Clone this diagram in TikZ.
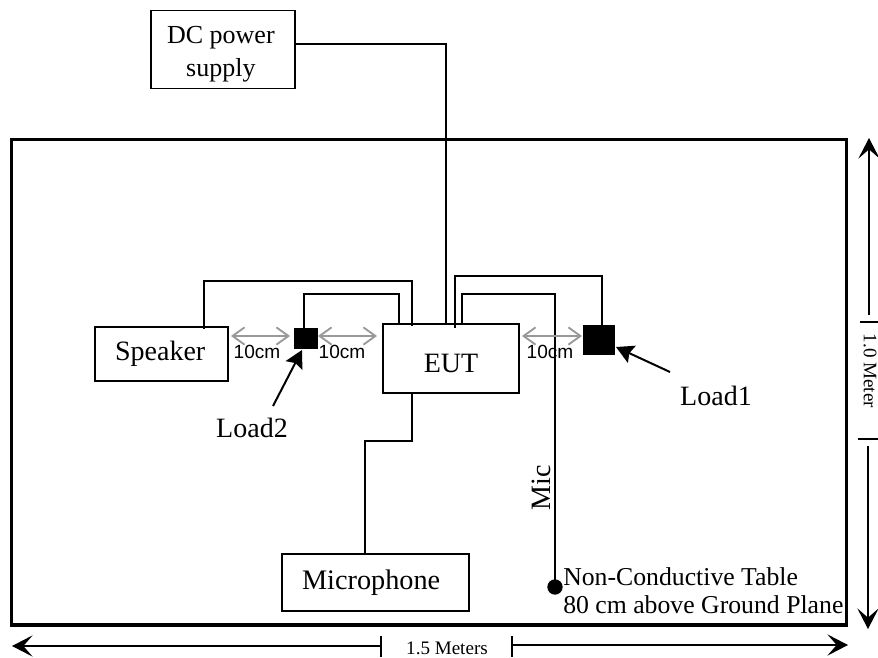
\documentclass[tikz,border=0pt]{standalone}
\usepackage{fontspec}
\setmainfont{Liberation Serif}
\setsansfont{Liberation Sans}
\usetikzlibrary{arrows.meta,calc}
\tikzset{
  x=0.75pt,y=-0.75pt,
  box/.style={draw=black,line width=1.3pt,inner sep=0pt,outer sep=0pt,anchor=north west},
  load/.style={draw=none,fill=black,inner sep=0pt,outer sep=0pt,anchor=north west},
  wire/.style={draw=black,line width=1.4pt,line join=miter},
  gap/.style={draw=black!40,line width=1.4pt,{Straight Barb[length=9pt,width=13pt,line width=1.4pt]}-{Straight Barb[length=9pt,width=13pt,line width=1.4pt]}},
  dim/.style={draw=black,line width=1pt},
  dimtip/.style={-{Stealth[length=15.5pt,width=16pt,inset=7pt]}},
  call/.style={draw=black,line width=1.5pt,-{Stealth[length=13pt,width=14pt,inset=2pt]}},
  big/.style={font=\fontsize{21}{21}\selectfont,inner sep=0pt},
  mid/.style={font=\fontsize{19.5}{24.5}\selectfont,inner sep=0pt},
  small/.style={font=\fontsize{14.3}{16}\selectfont,inner sep=0pt},
  gaplabel/.style={font=\sffamily\fontsize{14.3}{16}\selectfont,inner sep=0pt},
}
\begin{document}
\begin{tikzpicture}
\useasboundingbox (0,0) rectangle (878,657);
\node[draw=black,line width=2.5pt,inner sep=0pt,outer sep=0pt,anchor=north west,minimum width=626.25pt,minimum height=364pt] (table) at (11.5,139.5) {};
\node[box,minimum width=107.8pt,minimum height=58.5pt,align=center,mid] (dc) at (151,10.5) {\rule{0pt}{20pt}\mbox{DC power\hspace{3pt}}\\\mbox{supply\hspace{3pt}}};
\node[box,minimum width=99.75pt,minimum height=40.5pt,big] (spk) at (95,327) {\mbox{Speaker\hspace{2pt}}};
\node[box,minimum width=102pt,minimum height=51.75pt,big] (eut) at (383,324) {\rule{0pt}{21.5pt}EUT};
\node[box,minimum width=140.25pt,minimum height=42.75pt,font=\fontsize{21.2}{21}\selectfont] (mic) at (282,554) {\mbox{Microphone\hspace{6.5pt}}};
\node[load,minimum width=18pt,minimum height=15.75pt] (loadb) at (294,328) {};
\node[load,minimum width=24pt,minimum height=22.5pt] (loada) at (583,325) {};
\node[circle,fill=black,inner sep=0pt,minimum size=11.5pt] (dot) at (555,587) {};
% wires
\draw[wire] (dc.east |- 0,44) -- (446,44) -- ($(eut.north west)+(63,0)$);
\draw[wire] ($(spk.north west)+(109,2)$) -- ++(0,-48) -| ($(eut.north west)+(29,2)$);
\draw[wire] ($(loadb.north west)+(10,0)$) -- ++(0,-34) -| ($(eut.north west)+(16,0)$);
\draw[wire] ($(eut.north west)+(72,4)$) -- ++(0,-52) -| ($(loada.north west)+(19,0)$);
\draw[wire] ($(eut.north west)+(79,0)$) -- ++(0,-30) -| (dot.center);
\draw[wire] ($(eut.south west)+(29,0)$) -- ++(0,48) -| ($(mic.north west)+(83,0)$);
% gaps
\coordinate (g1) at (231,336); \coordinate (g2) at (290,336);
\coordinate (g3) at (318,336); \coordinate (g4) at (377,336);
\coordinate (g5) at (522,336); \coordinate (g6) at (582,336);
\draw[gap] (g1) -- (g2);
\draw[gap] (g3) -- (g4);
\draw[gap] (g5) -- (g6);
\node[gaplabel] (t1) at (257,352) {10cm};
\node[gaplabel] (t2) at (342,352) {10cm};
\node[gaplabel] (t3) at (550,352) {10cm};
% load callouts
\node[big] (l2) at (252,428) {Load2};
\node[big] (l1) at (716,396) {Load1};
\coordinate (l2s) at (273,406); \coordinate (l2e) at (302,350);
\coordinate (l1s) at (670,372); \coordinate (l1e) at (616,347);
\draw[call] (l2s) -- (l2e);
\draw[call] (l1s) -- (l1e);
\node[big,rotate=90] (miclabel) at (541,488) {Mic};
\node[font=\fontsize{19.3}{21}\selectfont,inner sep=0pt,anchor=west,align=left] (tt) at (563,591) {Non-Conductive Table\\80 cm above Ground Plane};
% dimensions
\node[small] (w) at (447,648) {1.5 Meters};
\node[small,rotate=-90] (h) at (870,371) {1.0 Meter};
\coordinate (bl) at (12,646); \coordinate (bt1) at (381,646);
\coordinate (bt2) at (512,645); \coordinate (br) at (848,645);
\draw[dim,dimtip] (bt1) -- (bl);
\draw[dim] (381,636) -- (381,657);
\draw[dim] (512,636) -- (512,657);
\draw[dim,dimtip] (bt2) -- (br);
\coordinate (rt) at (869,138); \coordinate (rt1) at (869,315);
\coordinate (rt2) at (868,446); \coordinate (rb) at (868,629);
\draw[dim,dimtip] (rt1) -- (rt);
\draw[dim] (860,322) -- (878,322);
\draw[dim] (858,439) -- (878,439);
\draw[dim,dimtip] (rt2) -- (rb);
\end{tikzpicture}
\end{document}
